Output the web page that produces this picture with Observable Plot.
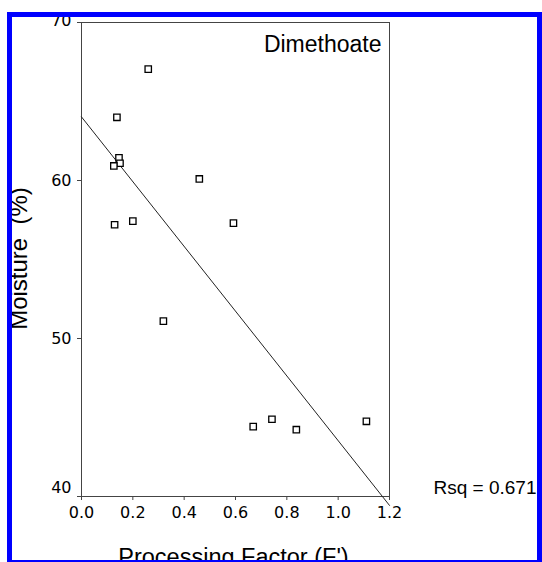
<!DOCTYPE html>
<html><head><meta charset="utf-8">
<script src="https://cdn.jsdelivr.net/npm/d3@7"></script>
<script src="https://cdn.jsdelivr.net/npm/@observablehq/plot@0.6"></script>
<style>
html,body{margin:0;padding:0;background:#fff;width:542px;height:562px;overflow:hidden;}
#wrap{position:relative;width:542px;height:562px;}
#chart{position:absolute;left:0;top:0;}
.mask{position:absolute;background:#fff;}
.edge{position:absolute;background:#0000ff;pointer-events:none;}
</style></head>
<body>
<div id="wrap">
  <div id="chart"></div>
  <div class="mask" style="left:0;top:0;width:542px;height:12px"></div>
  <div class="mask" style="left:0;top:0;width:7px;height:562px"></div>
  <div class="edge" style="left:7px;top:12px;width:535px;height:5px"></div>
  <div class="edge" style="left:7px;top:12px;width:5px;height:550px"></div>
  <div class="edge" style="left:537px;top:12px;width:5px;height:550px"></div>
  <div class="edge" style="left:7px;top:560px;width:535px;height:2px"></div>
</div>
<script>
// Data
const processingFactor = [0.260, 0.138, 0.146, 0.150, 0.126, 0.459, 0.129, 0.200, 0.592, 0.319, 0.669, 0.742, 0.837, 1.110];
const moisture        = [67.05, 64.00, 61.43, 61.09, 60.92, 60.10, 57.20, 57.43, 57.30, 51.10, 44.42, 44.89, 44.23, 44.76];
const xTicks = [0, 0.2, 0.4, 0.6, 0.8, 1.0, 1.2];
const yTicks = [40, 50, 60, 70];
const xDomain = [0, 1.2];
const yDomain = [40, 70];
const panelLabel = "Dimethoate";
const rsqLabel = "Rsq = 0.6715";
const xTitle = "Processing Factor (F')";
const yTitle = "Moisture  (%)";

const points = processingFactor.map((x, i) => ({x, y: moisture[i]}));

// least-squares fit, drawn across the x axis range
const mx = d3.mean(processingFactor), my = d3.mean(moisture);
const sxy = d3.sum(points, d => (d.x - mx) * (d.y - my));
const sxx = d3.sum(points, d => (d.x - mx) ** 2);
const slope = sxy / sxx, intercept = my - slope * mx;
const fit = xDomain.map(x => ({x, y: intercept + slope * x}));

const titleFont = "Liberation Sans, Arial, sans-serif";
const tickFont = "DejaVu Sans, sans-serif";

const chart = Plot.plot({
  width: 542,
  height: 562,
  marginLeft: 81,
  marginRight: 153,
  marginTop: 22,
  marginBottom: 66,
  x: {domain: xDomain},
  y: {domain: yDomain},
  style: {background: "transparent", color: "black", fontFamily: tickFont, fontSize: "16px", overflow: "visible"},
  marks: [
    Plot.frame({stroke: "#444"}),
    Plot.axisX({ticks: xTicks, tickFormat: d3.format(".1f"), tickSize: 4, tickPadding: 6, label: null, stroke: "#444", fill: "black", fontSize: 16, fontFamily: tickFont}),
    Plot.axisY({ticks: yTicks, tickSize: 4, tickFormat: () => "", label: null, stroke: "#444"}),
    Plot.text(yTicks.filter(d => d === 50 || d === 60), {y: d => d, frameAnchor: "left", dx: -10, textAnchor: "end", lineAnchor: "middle", text: d => String(d), fontSize: 16, fontFamily: tickFont, fill: "black"}),
    Plot.text(yTicks.filter(d => d === 70), {y: d => d, frameAnchor: "left", dx: -10, dy: -2, textAnchor: "end", lineAnchor: "middle", text: d => String(d), fontSize: 16, fontFamily: tickFont, fill: "black"}),
    Plot.text(yTicks.filter(d => d === 40), {y: d => d, frameAnchor: "left", dx: -10, dy: -9, textAnchor: "end", lineAnchor: "middle", text: d => String(d), fontSize: 16, fontFamily: tickFont, fill: "black"}),
    Plot.line(fit, {x: "x", y: "y", stroke: "#222", strokeWidth: 1}),
    Plot.dot(points, {x: "x", y: "y", symbol: "square", r: 3.6, stroke: "black", fill: "white", strokeWidth: 1.3}),
    Plot.text([panelLabel], {text: d => d, frameAnchor: "top-right", textAnchor: "end", lineAnchor: "middle", dx: -8, dy: 22, fontSize: 23, fontFamily: titleFont, fill: "black"}),
    Plot.text([rsqLabel], {text: d => d, frameAnchor: "bottom-right", textAnchor: "start", lineAnchor: "middle", dx: 44, dy: -9, fontSize: 19, fontFamily: titleFont, fill: "black"}),
    Plot.text([xTitle], {text: d => d, frameAnchor: "bottom", textAnchor: "middle", lineAnchor: "middle", dx: -2, dy: 61, fontSize: 23.5, fontFamily: titleFont, fill: "black"}),
    Plot.text([yTitle], {text: d => d, frameAnchor: "left", textAnchor: "middle", lineAnchor: "middle", rotate: -90, dx: -62, dy: -1, fontSize: 24, fontFamily: titleFont, fill: "black"})
  ]
});
document.getElementById("chart").appendChild(chart);
</script>
</body></html>
